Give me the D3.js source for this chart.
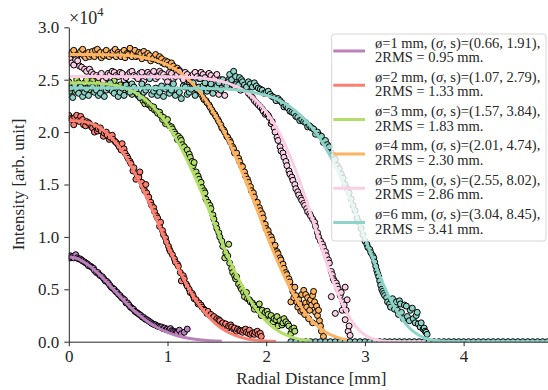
<!DOCTYPE html>
<html>
<head>
<meta charset="utf-8">
<script src="https://cdn.jsdelivr.net/npm/d3@7"></script>
<style>
  body { margin: 0; background: #fff; }
  svg { display: block; }
</style>
</head>
<body>
<div id="chart"></div>
<script>
// legend values
const diameters = [1, 2, 3, 4, 5, 6];
const sigmas = ['0.66', '1.07', '1.57', '2.01', '2.55', '3.04'];
const shapes = ['1.91', '2.79', '3.84', '4.74', '8.02', '8.45'];
const rms2 = ['0.95', '1.33', '1.83', '2.30', '2.86', '3.41'];
const colors = ['#bc80bd', '#fb8072', '#b3de69', '#fdb462', '#fccde5', '#8dd3c7'];

const yTicks = [0, 0.5, 1, 1.5, 2, 2.5, 3];
const xTicks = [0, 1, 2, 3, 4];

// measured points [r (mm), intensity (x1e4)]
const dots1 = [[0.00,0.80],[0.015,0.82],[0.02,0.80],[0.03,0.81],[0.045,0.815],[0.05,0.80],[0.07,0.83],[0.085,0.80],[0.10,0.79],[0.115,0.79],[0.13,0.78],[0.14,0.77],[0.16,0.76],[0.175,0.75],[0.19,0.74],[0.20,0.725],[0.22,0.72],[0.235,0.71],[0.25,0.70],[0.26,0.68],[0.28,0.66],[0.295,0.66],[0.31,0.64],[0.32,0.63],[0.34,0.62],[0.355,0.60],[0.37,0.58],[0.385,0.575],[0.40,0.56],[0.415,0.54],[0.43,0.52],[0.445,0.51],[0.46,0.50],[0.475,0.48],[0.49,0.47],[0.505,0.45],[0.52,0.44],[0.535,0.42],[0.55,0.41],[0.565,0.40],[0.58,0.37],[0.595,0.37],[0.61,0.35],[0.625,0.33],[0.64,0.32],[0.655,0.31],[0.67,0.29],[0.685,0.28],[0.70,0.27],[0.715,0.26],[0.73,0.25],[0.745,0.235],[0.76,0.23],[0.775,0.215],[0.79,0.21],[0.805,0.20],[0.82,0.19],[0.835,0.18],[0.85,0.17],[0.865,0.165],[0.88,0.16],[0.895,0.15],[0.91,0.145],[0.925,0.14],[0.94,0.14],[0.955,0.125],[0.97,0.13],[0.985,0.115],[1.00,0.12],[1.015,0.11],[1.03,0.125],[1.045,0.105],[1.06,0.10],[1.075,0.095],[1.09,0.09],[1.10,0.085],[1.12,0.11],[1.14,0.075],[1.17,0.09],[1.20,0.12]];
const dots2 = [[0.00,2.16],[0.02,2.13],[0.03,2.12],[0.05,2.07],[0.06,2.14],[0.08,2.16],[0.09,2.11],[0.11,2.10],[0.12,2.15],[0.14,2.12],[0.15,2.07],[0.17,2.06],[0.18,2.10],[0.20,2.09],[0.21,2.08],[0.23,2.05],[0.24,2.04],[0.26,2.00],[0.27,2.06],[0.29,2.01],[0.30,2.03],[0.32,2.04],[0.33,2.01],[0.35,1.96],[0.36,1.99],[0.38,2.00],[0.39,1.97],[0.41,1.93],[0.42,1.95],[0.44,1.97],[0.45,1.93],[0.47,1.91],[0.48,1.90],[0.50,1.88],[0.51,1.86],[0.53,1.83],[0.54,1.89],[0.56,1.84],[0.57,1.80],[0.59,1.77],[0.60,1.75],[0.62,1.72],[0.63,1.70],[0.65,1.63],[0.66,1.66],[0.68,1.55],[0.69,1.60],[0.71,1.57],[0.72,1.62],[0.74,1.52],[0.75,1.48],[0.77,1.44],[0.78,1.50],[0.79,1.42],[0.81,1.38],[0.83,1.33],[0.84,1.30],[0.86,1.28],[0.87,1.24],[0.89,1.20],[0.90,1.18],[0.92,1.10],[0.93,1.14],[0.95,1.06],[0.96,1.02],[0.98,0.99],[0.99,0.95],[1.01,0.91],[1.02,0.88],[1.03,0.86],[1.05,0.83],[1.07,0.79],[1.08,0.76],[1.10,0.74],[1.11,0.72],[1.13,0.66],[1.14,0.58],[1.16,0.63],[1.17,0.60],[1.19,0.55],[1.20,0.53],[1.22,0.50],[1.23,0.47],[1.25,0.46],[1.26,0.44],[1.27,0.41],[1.29,0.40],[1.31,0.36],[1.32,0.37],[1.34,0.35],[1.35,0.33],[1.37,0.31],[1.38,0.30],[1.40,0.27],[1.41,0.29],[1.43,0.25],[1.44,0.26],[1.46,0.23],[1.47,0.24],[1.49,0.20],[1.50,0.22],[1.52,0.21],[1.53,0.20],[1.55,0.17],[1.56,0.18],[1.58,0.15],[1.59,0.17],[1.61,0.13],[1.62,0.15],[1.64,0.16],[1.65,0.14],[1.67,0.12],[1.68,0.13],[1.70,0.10],[1.71,0.12],[1.73,0.11],[1.74,0.10],[1.76,0.09],[1.77,0.11],[1.79,0.12],[1.80,0.09],[1.82,0.08],[1.83,0.11],[1.84,0.07],[1.86,0.08],[1.88,0.07],[1.89,0.09],[1.91,0.10],[1.92,0.07],[1.94,0.08],[1.95,0.05]];
const dots3 = [[0.00,2.48],[0.02,2.45],[0.04,2.42],[0.06,2.39],[0.08,2.50],[0.10,2.47],[0.12,2.44],[0.14,2.41],[0.16,2.47],[0.18,2.50],[0.20,2.40],[0.22,2.44],[0.24,2.49],[0.26,2.42],[0.28,2.45],[0.30,2.48],[0.32,2.43],[0.34,2.40],[0.36,2.50],[0.38,2.46],[0.40,2.44],[0.42,2.42],[0.44,2.47],[0.46,2.49],[0.48,2.41],[0.50,2.43],[0.52,2.45],[0.54,2.38],[0.56,2.40],[0.58,2.46],[0.60,2.42],[0.62,2.40],[0.64,2.36],[0.66,2.42],[0.68,2.38],[0.70,2.35],[0.72,2.33],[0.74,2.34],[0.75,2.30],[0.77,2.27],[0.78,2.30],[0.80,2.28],[0.81,2.26],[0.83,2.25],[0.84,2.23],[0.86,2.24],[0.87,2.21],[0.89,2.20],[0.90,2.18],[0.92,2.19],[0.93,2.16],[0.95,2.12],[0.96,2.14],[0.98,2.08],[0.99,2.10],[1.00,2.12],[1.02,2.06],[1.04,2.05],[1.05,2.03],[1.07,2.00],[1.08,1.98],[1.10,1.93],[1.11,1.96],[1.13,1.94],[1.14,1.92],[1.15,1.88],[1.17,1.86],[1.19,1.80],[1.20,1.83],[1.22,1.79],[1.23,1.76],[1.25,1.72],[1.26,1.68],[1.27,1.71],[1.29,1.62],[1.31,1.58],[1.32,1.55],[1.34,1.52],[1.35,1.47],[1.37,1.44],[1.38,1.42],[1.39,1.36],[1.41,1.33],[1.43,1.30],[1.44,1.27],[1.46,1.21],[1.47,1.17],[1.49,1.12],[1.50,1.08],[1.52,1.04],[1.53,1.00],[1.55,0.96],[1.56,0.91],[1.58,0.80],[1.59,0.85],[1.61,0.82],[1.62,0.93],[1.63,0.75],[1.65,0.70],[1.66,0.66],[1.68,0.63],[1.69,0.60],[1.70,0.62],[1.72,0.55],[1.74,0.52],[1.75,0.50],[1.77,0.47],[1.78,0.43],[1.80,0.47],[1.81,0.41],[1.83,0.40],[1.84,0.38],[1.86,0.37],[1.87,0.35],[1.88,0.31],[1.90,0.33],[1.92,0.30],[1.93,0.36],[1.95,0.25],[1.96,0.30],[1.98,0.25],[1.99,0.28],[2.01,0.29],[2.02,0.26],[2.03,0.20],[2.05,0.25],[2.07,0.19],[2.08,0.22],[2.10,0.21],[2.11,0.24],[2.12,0.15],[2.14,0.20],[2.16,0.16],[2.17,0.18],[2.18,0.22],[2.20,0.19],[2.22,0.17],[2.23,0.15],[2.25,0.08],[2.26,0.12],[2.28,0.13],[2.29,0.10]];
const dots4 = [[0.00,2.72],[0.02,2.74],[0.03,2.76],[0.05,2.78],[0.06,2.71],[0.08,2.72],[0.09,2.74],[0.11,2.75],[0.12,2.77],[0.14,2.79],[0.15,2.73],[0.17,2.71],[0.18,2.75],[0.20,2.76],[0.21,2.72],[0.23,2.74],[0.24,2.77],[0.26,2.72],[0.27,2.78],[0.29,2.79],[0.30,2.74],[0.32,2.76],[0.33,2.71],[0.35,2.73],[0.36,2.76],[0.38,2.78],[0.39,2.73],[0.41,2.72],[0.42,2.75],[0.44,2.74],[0.45,2.77],[0.47,2.79],[0.48,2.72],[0.50,2.76],[0.51,2.74],[0.53,2.72],[0.54,2.76],[0.56,2.78],[0.57,2.71],[0.59,2.75],[0.60,2.74],[0.62,2.80],[0.64,2.72],[0.65,2.75],[0.67,2.78],[0.68,2.72],[0.70,2.73],[0.71,2.76],[0.73,2.75],[0.74,2.70],[0.76,2.77],[0.77,2.73],[0.79,2.71],[0.80,2.75],[0.82,2.73],[0.83,2.68],[0.85,2.70],[0.86,2.71],[0.88,2.74],[0.89,2.69],[0.91,2.68],[0.92,2.72],[0.94,2.70],[0.95,2.66],[0.97,2.65],[0.98,2.68],[1.00,2.67],[1.01,2.64],[1.03,2.62],[1.04,2.66],[1.06,2.63],[1.07,2.60],[1.09,2.58],[1.10,2.61],[1.12,2.59],[1.13,2.57],[1.15,2.53],[1.16,2.55],[1.18,2.54],[1.19,2.52],[1.21,2.50],[1.22,2.48],[1.24,2.49],[1.25,2.46],[1.27,2.44],[1.28,2.42],[1.30,2.41],[1.31,2.40],[1.33,2.38],[1.34,2.36],[1.36,2.33],[1.37,2.31],[1.39,2.30],[1.40,2.28],[1.42,2.26],[1.43,2.24],[1.45,2.21],[1.46,2.19],[1.48,2.17],[1.49,2.15],[1.51,2.12],[1.52,2.10],[1.54,2.07],[1.55,2.04],[1.57,2.02],[1.58,2.00],[1.60,1.96],[1.61,1.95],[1.63,1.92],[1.64,1.90],[1.66,1.86],[1.67,1.84],[1.68,1.80],[1.70,1.80],[1.72,1.75],[1.73,1.72],[1.75,1.68],[1.76,1.67],[1.78,1.62],[1.79,1.58],[1.81,1.55],[1.82,1.52],[1.84,1.48],[1.85,1.44],[1.87,1.42],[1.88,1.38],[1.90,1.33],[1.91,1.33],[1.93,1.28],[1.94,1.25],[1.96,1.22],[1.97,1.18],[1.99,1.12],[2.00,1.08],[2.02,1.06],[2.03,1.02],[2.05,1.00],[2.06,0.97],[2.08,0.90],[2.09,0.92],[2.11,0.86],[2.12,0.84],[2.14,0.80],[2.15,0.78],[2.17,0.74],[2.18,0.70],[2.20,0.66],[2.21,0.64],[2.23,0.60],[2.24,0.57],[2.25,0.38],[2.26,0.52],[2.27,0.48],[2.28,0.42],[2.29,0.52],[2.30,0.44],[2.31,0.38],[2.32,0.33],[2.33,0.40],[2.34,0.36],[2.35,0.29],[2.36,0.45],[2.37,0.30],[2.38,0.49],[2.39,0.26],[2.40,0.37],[2.40,0.45],[2.41,0.33],[2.42,0.42],[2.43,0.22],[2.44,0.30],[2.44,0.38],[2.45,0.40],[2.46,0.35],[2.47,0.18],[2.47,0.44],[2.48,0.48],[2.49,0.38],[2.50,0.28],[2.51,0.34],[2.52,0.25],[2.53,0.30],[2.54,0.20],[2.55,0.15],[2.56,0.10],[2.58,0.05]];
const dots5 = [[0.01,2.70],[0.03,2.66],[0.05,2.64],[0.07,2.69],[0.09,2.68],[0.11,2.63],[0.13,2.62],[0.16,2.60],[0.18,2.58],[0.21,2.60],[0.23,2.57],[0.25,2.55],[0.28,2.54],[0.30,2.52],[0.33,2.56],[0.35,2.49],[0.38,2.52],[0.40,2.56],[0.42,2.55],[0.44,2.58],[0.46,2.57],[0.48,2.54],[0.50,2.53],[0.52,2.57],[0.54,2.56],[0.56,2.50],[0.58,2.52],[0.60,2.55],[0.62,2.57],[0.64,2.58],[0.66,2.54],[0.68,2.53],[0.70,2.51],[0.72,2.56],[0.74,2.57],[0.76,2.49],[0.78,2.53],[0.80,2.57],[0.82,2.55],[0.84,2.54],[0.86,2.58],[0.88,2.51],[0.90,2.53],[0.92,2.58],[0.94,2.56],[0.96,2.55],[0.98,2.52],[1.00,2.48],[1.02,2.57],[1.04,2.56],[1.06,2.51],[1.08,2.53],[1.10,2.55],[1.12,2.58],[1.14,2.53],[1.16,2.50],[1.18,2.57],[1.20,2.55],[1.22,2.50],[1.24,2.53],[1.26,2.55],[1.28,2.57],[1.30,2.53],[1.32,2.51],[1.34,2.57],[1.36,2.55],[1.38,2.52],[1.40,2.49],[1.42,2.56],[1.44,2.54],[1.46,2.50],[1.48,2.52],[1.50,2.55],[1.52,2.36],[1.54,2.50],[1.55,2.47],[1.58,2.35],[1.60,2.46],[1.62,2.50],[1.64,2.49],[1.66,2.45],[1.68,2.44],[1.70,2.48],[1.72,2.46],[1.74,2.40],[1.76,2.41],[1.78,2.43],[1.80,2.40],[1.82,2.37],[1.84,2.35],[1.86,2.33],[1.88,2.30],[1.90,2.28],[1.92,2.26],[1.94,2.24],[1.96,2.22],[1.97,2.20],[1.99,2.17],[2.00,2.18],[2.02,2.16],[2.03,2.14],[2.05,2.08],[2.06,2.10],[2.08,2.04],[2.09,2.00],[2.11,1.95],[2.12,1.92],[2.14,1.86],[2.15,1.82],[2.17,1.80],[2.18,1.76],[2.20,1.72],[2.21,1.68],[2.23,1.63],[2.24,1.60],[2.26,1.57],[2.27,1.54],[2.29,1.50],[2.30,1.46],[2.32,1.43],[2.33,1.40],[2.35,1.37],[2.36,1.35],[2.38,1.32],[2.39,1.30],[2.41,1.27],[2.42,1.24],[2.44,1.22],[2.45,1.20],[2.47,1.17],[2.49,1.14],[2.50,1.10],[2.52,1.04],[2.53,1.00],[2.55,0.96],[2.57,0.93],[2.58,0.90],[2.60,0.86],[2.61,0.82],[2.63,0.78],[2.64,0.75],[2.66,0.67],[2.66,0.43],[2.67,0.64],[2.68,0.60],[2.69,0.58],[2.70,0.27],[2.71,0.56],[2.72,0.53],[2.73,0.50],[2.75,0.44],[2.76,0.47],[2.77,0.30],[2.78,0.38],[2.79,0.35],[2.80,0.52],[2.80,0.21],[2.81,0.30],[2.82,0.40],[2.83,0.10],[2.84,0.15],[2.85,0.06]];
const dots6 = [[0.00,2.36],[0.01,2.39],[0.02,2.42],[0.04,2.33],[0.06,2.45],[0.08,2.40],[0.10,2.37],[0.12,2.43],[0.14,2.34],[0.16,2.38],[0.18,2.41],[0.20,2.35],[0.22,2.46],[0.24,2.43],[0.26,2.38],[0.28,2.40],[0.30,2.35],[0.32,2.37],[0.34,2.44],[0.36,2.34],[0.38,2.40],[0.40,2.42],[0.42,2.47],[0.44,2.39],[0.46,2.37],[0.48,2.44],[0.50,2.34],[0.52,2.38],[0.54,2.42],[0.56,2.35],[0.58,2.45],[0.60,2.41],[0.62,2.38],[0.64,2.46],[0.66,2.43],[0.68,2.40],[0.70,2.36],[0.72,2.33],[0.74,2.46],[0.76,2.38],[0.78,2.40],[0.80,2.43],[0.82,2.51],[0.84,2.36],[0.86,2.39],[0.88,2.42],[0.90,2.35],[0.92,2.38],[0.94,2.44],[0.96,2.34],[0.98,2.41],[1.00,2.43],[1.02,2.37],[1.04,2.40],[1.06,2.46],[1.08,2.35],[1.10,2.40],[1.12,2.38],[1.14,2.32],[1.16,2.44],[1.18,2.43],[1.20,2.36],[1.22,2.38],[1.24,2.41],[1.26,2.47],[1.28,2.35],[1.30,2.41],[1.32,2.43],[1.33,2.51],[1.34,2.38],[1.36,2.44],[1.38,2.47],[1.40,2.39],[1.42,2.42],[1.44,2.46],[1.46,2.37],[1.48,2.42],[1.50,2.44],[1.52,2.47],[1.54,2.40],[1.56,2.50],[1.58,2.46],[1.60,2.44],[1.62,2.48],[1.63,2.55],[1.65,2.50],[1.67,2.58],[1.69,2.53],[1.70,2.46],[1.72,2.45],[1.73,2.52],[1.75,2.50],[1.76,2.48],[1.78,2.45],[1.80,2.43],[1.82,2.48],[1.84,2.46],[1.86,2.43],[1.88,2.47],[1.90,2.44],[1.92,2.42],[1.94,2.41],[1.96,2.40],[1.98,2.37],[2.00,2.38],[2.02,2.39],[2.04,2.36],[2.06,2.34],[2.08,2.33],[2.10,2.30],[2.12,2.32],[2.14,2.30],[2.16,2.28],[2.18,2.24],[2.20,2.25],[2.22,2.23],[2.24,2.20],[2.26,2.19],[2.28,2.18],[2.30,2.15],[2.32,2.14],[2.34,2.11],[2.36,2.12],[2.38,2.10],[2.40,2.09],[2.42,2.05],[2.44,2.06],[2.46,2.04],[2.48,2.03],[2.50,1.98],[2.52,2.00],[2.54,1.97],[2.56,1.96],[2.58,1.90],[2.60,1.92],[2.62,1.88],[2.64,1.86],[2.66,1.80],[2.68,1.78],[2.70,1.74],[2.72,1.68],[2.74,1.65],[2.76,1.60],[2.78,1.56],[2.80,1.50],[2.82,1.46],[2.84,1.42],[2.86,1.36],[2.88,1.30],[2.90,1.25],[2.92,1.18],[2.94,1.14],[2.96,1.08],[2.98,1.02],[3.00,0.96],[3.02,0.93],[3.03,0.90],[3.05,0.88],[3.06,0.85],[3.08,0.82],[3.09,0.80],[3.10,0.76],[3.11,0.72],[3.12,0.68],[3.13,0.65],[3.14,0.62],[3.15,0.58],[3.16,0.54],[3.17,0.50],[3.18,0.48],[3.19,0.46],[3.20,0.44],[3.22,0.42],[3.23,0.38],[3.25,0.36],[3.26,0.33],[3.27,0.40],[3.28,0.41],[3.30,0.31],[3.31,0.35],[3.32,0.38],[3.33,0.30],[3.34,0.26],[3.35,0.39],[3.36,0.36],[3.37,0.28],[3.39,0.22],[3.40,0.35],[3.42,0.34],[3.43,0.24],[3.45,0.20],[3.46,0.30],[3.48,0.32],[3.49,0.22],[3.51,0.18],[3.52,0.25],[3.53,0.28],[3.54,0.17],[3.56,0.14],[3.57,0.18],[3.59,0.12],[3.60,0.13],[3.61,0.10],[3.62,0.09],[3.63,0.07]];
// positions where the measured intensity is zero
const zeroR = [2.25,2.3,2.35,2.4,2.45,2.5,2.55,2.6,2.65,2.7,2.75,2.8,2.85,2.9,2.95,3.0,3.05,3.1,3.15,3.2,3.25,3.3,3.35,3.4,3.45,3.5,3.55,3.6,3.65,3.7,3.75,3.8,3.85,3.9,3.95,4.0,4.05,4.1,4.15,4.2,4.25,4.3,4.35,4.4,4.45,4.5,4.55,4.6,4.65,4.7,4.75,4.8,4.85];

// fitted profiles
const fit1 = [[0,0.81],[0.1,0.788],[0.2,0.731],[0.3,0.649],[0.4,0.552],[0.5,0.45],[0.6,0.352],[0.7,0.265],[0.8,0.191],[0.9,0.133],[1.0,0.089],[1.1,0.057],[1.2,0.035],[1.3,0.021],[1.4,0.012],[1.5,0.007],[1.55,0.005]];
const fit2 = [[0,2.11],[0.1,2.107],[0.2,2.09],[0.3,2.05],[0.4,1.979],[0.5,1.872],[0.6,1.73],[0.7,1.552],[0.8,1.354],[0.9,1.139],[1.0,0.922],[1.1,0.716],[1.2,0.532],[1.3,0.378],[1.4,0.254],[1.5,0.162],[1.6,0.098],[1.7,0.055],[1.8,0.029],[1.9,0.015],[2.0,0.007],[2.1,0.003]];
const fit3 = [[0,2.47],[0.2,2.469],[0.4,2.457],[0.5,2.44],[0.6,2.409],[0.7,2.361],[0.8,2.291],[0.9,2.195],[1.0,2.069],[1.1,1.914],[1.2,1.73],[1.3,1.524],[1.4,1.302],[1.5,1.069],[1.6,0.84],[1.7,0.638],[1.8,0.456],[1.9,0.309],[2.0,0.196],[2.1,0.116],[2.2,0.064],[2.3,0.032],[2.4,0.015],[2.45,0.01]];
const fit4 = [[0,2.74],[0.4,2.739],[0.6,2.731],[0.8,2.705],[0.9,2.68],[1.0,2.641],[1.1,2.587],[1.2,2.513],[1.3,2.414],[1.4,2.289],[1.5,2.134],[1.6,1.95],[1.7,1.741],[1.8,1.515],[1.9,1.278],[2.0,1.029],[2.1,0.8],[2.2,0.59],[2.3,0.413],[2.4,0.27],[2.5,0.165],[2.6,0.093],[2.7,0.048],[2.8,0.022],[2.82,0.02]];
const fit5 = [[0,2.53],[1.0,2.529],[1.2,2.524],[1.5,2.494],[1.6,2.47],[1.7,2.434],[1.8,2.38],[1.9,2.302],[2.0,2.194],[2.1,2.05],[2.2,1.86],[2.3,1.632],[2.4,1.366],[2.5,1.078],[2.6,0.785],[2.7,0.522],[2.8,0.305],[2.9,0.153],[3.0,0.064],[3.1,0.021],[3.2,0.005],[3.3,0.001],[3.6,0]];
const fit6 = [[0,2.42],[1.0,2.42],[1.5,2.414],[1.8,2.391],[2.0,2.35],[2.1,2.316],[2.2,2.268],[2.3,2.201],[2.4,2.113],[2.5,1.999],[2.6,1.852],[2.7,1.678],[2.8,1.472],[2.9,1.236],[3.0,0.988],[3.1,0.745],[3.2,0.519],[3.3,0.328],[3.4,0.185],[3.5,0.091],[3.6,0.037],[3.7,0.013],[3.8,0.004],[4.0,0],[4.85,0]];

const allDots = [dots1, dots2, dots3, dots4, dots5, dots6];
const allFits = [fit1, fit2, fit3, fit4, fit5, fit6];

const width = 548;
const height = 390;
const serif = "'Liberation Serif', 'Times New Roman', serif";
const axisColor = '#262626';

const x = d3.scaleLinear().domain([0, 4.855]).range([68.8, 548]);
const y = d3.scaleLinear().domain([0, 3]).range([341.7, 27.3]);

const svg = d3.select('#chart')
  .append('svg')
  .attr('width', width)
  .attr('height', height)
  .style('background', '#ffffff');

svg.append('defs')
  .append('clipPath')
  .attr('id', 'plot-clip')
  .append('rect')
  .attr('x', x(0))
  .attr('y', y(3))
  .attr('width', x(4.855) - x(0))
  .attr('height', y(0) - y(3));

const plot = svg.append('g').attr('clip-path', 'url(#plot-clip)');

/* scatter points */
allDots.forEach((dots, i) => {
  plot.append('g')
    .selectAll('circle')
    .data(dots)
    .join('circle')
    .attr('cx', (d) => x(d[0]))
    .attr('cy', (d) => y(d[1]))
    .attr('r', 3)
    .attr('fill', colors[i])
    .attr('stroke', '#000')
    .attr('stroke-width', 1);
});

plot.append('g')
  .selectAll('circle')
  .data(zeroR)
  .join('circle')
  .attr('cx', (d) => x(d))
  .attr('cy', y(0))
  .attr('r', 3)
  .attr('fill', colors[5])
  .attr('stroke', '#000')
  .attr('stroke-width', 1);

/* fitted curves */
const line = d3.line()
  .x((d) => x(d[0]))
  .y((d) => y(d[1]))
  .curve(d3.curveMonotoneX);

allFits.forEach((fit, i) => {
  plot.append('path')
    .datum(fit)
    .attr('fill', 'none')
    .attr('stroke', colors[i])
    .attr('stroke-width', 3)
    .attr('d', line);
});

/* axes */
const yAxis = svg.append('g')
  .attr('transform', `translate(${x(0)},0)`)
  .call(d3.axisLeft(y).tickValues(yTicks).tickFormat(d3.format('.1f')).tickSize(4.5).tickSizeOuter(0).tickPadding(5));

const xAxis = svg.append('g')
  .attr('transform', `translate(0,${y(0)})`)
  .call(d3.axisBottom(x).tickValues(xTicks).tickFormat(d3.format('d')).tickSize(4.5).tickSizeOuter(0).tickPadding(4));

[xAxis, yAxis].forEach((g) => {
  g.selectAll('path, line').attr('stroke', axisColor).attr('stroke-width', 1);
  g.selectAll('text')
    .attr('fill', '#262626')
    .attr('font-family', serif)
    .attr('font-size', 17);
});

svg.append('text')
  .attr('x', (x(0) + 548) / 2 + 3)
  .attr('y', 384)
  .attr('text-anchor', 'middle')
  .attr('font-family', serif)
  .attr('font-size', 17)
  .attr('fill', '#262626')
  .text('Radial Distance [mm]');

svg.append('text')
  .attr('transform', `translate(24,${(y(0) + y(3)) / 2}) rotate(-90)`)
  .attr('text-anchor', 'middle')
  .attr('font-family', serif)
  .attr('font-size', 17)
  .attr('fill', '#262626')
  .text('Intensity [arb. unit]');

/* offset text */
const offset = svg.append('text')
  .attr('x', 69)
  .attr('y', 24)
  .attr('font-family', serif)
  .attr('font-size', 18)
  .attr('fill', '#262626');
offset.append('tspan').text('×10');
offset.append('tspan').attr('font-size', 12.5).attr('dy', -8).text('4');

/* legend */
const legend = svg.append('g').attr('transform', 'translate(331.7,34)');

legend.append('rect')
  .attr('width', 214.3)
  .attr('height', 207)
  .attr('rx', 3)
  .attr('fill', '#ffffff')
  .attr('fill-opacity', 0.8)
  .attr('stroke', '#d6d6d6')
  .attr('stroke-width', 1);

diameters.forEach((dia, i) => {
  const g = legend.append('g').attr('transform', `translate(0,${i * 34.3})`);

  g.append('line')
    .attr('x1', 1.6)
    .attr('x2', 33.3)
    .attr('y1', 17)
    .attr('y2', 17)
    .attr('stroke', colors[i])
    .attr('stroke-width', 3);

  const t1 = g.append('text')
    .attr('x', 43.3)
    .attr('y', 13.5)
    .attr('font-family', serif)
    .attr('font-size', 14.5)
    .attr('fill', '#262626');
  t1.append('tspan').text(`ø=${dia} mm, (`);
  t1.append('tspan').attr('font-style', 'italic').text('σ');
  t1.append('tspan').text(`, s)=(${sigmas[i]}, ${shapes[i]}),`);

  g.append('text')
    .attr('x', 43.3)
    .attr('y', 28.2)
    .attr('font-family', serif)
    .attr('font-size', 14.5)
    .attr('fill', '#262626')
    .text(`2RMS = ${rms2[i]} mm.`);
});
</script>
</body>
</html>
